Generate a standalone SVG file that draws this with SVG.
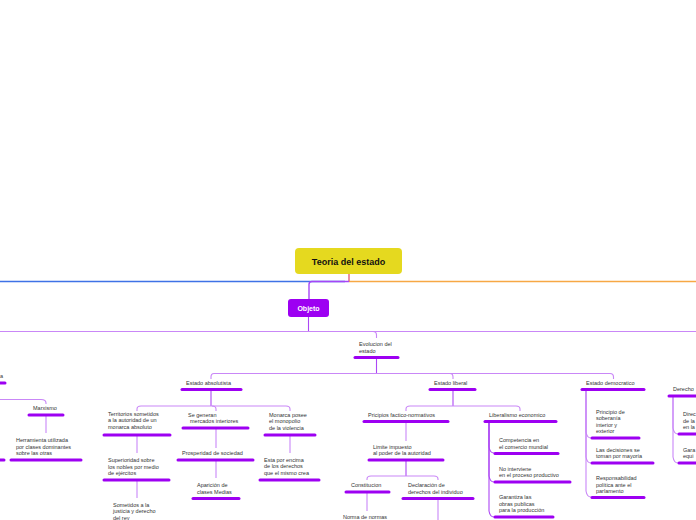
<svg xmlns="http://www.w3.org/2000/svg" width="696" height="520" viewBox="0 0 696 520">
<defs>
<style>
.t{font-family:"Liberation Sans",Arial,sans-serif;font-size:5.5px;fill:#333}
.bar{stroke:#9d00f2;stroke-width:3;stroke-linecap:round;fill:none}
.ln{stroke:#c987f7;stroke-width:1.1;fill:none}
.lnd{stroke:#ad48f5;stroke-width:1.1;fill:none}
</style>
</defs>
<rect width="696" height="520" fill="#ffffff"/>
<g id="connectors">
<path d="M0 281.5 H345" stroke="#3f72e6" stroke-width="1.4" fill="none"/>
<path d="M349 281.5 H696" stroke="#f7a844" stroke-width="1.4" fill="none"/>
<path d="M349 274 V281.5" stroke="#e0607a" stroke-width="1.4" fill="none"/>
<path d="M349 281.5 H312 Q309 281.5 309 284.5 V299" stroke="#a646f7" stroke-width="1.4" fill="none"/>
<path d="M308.5 317 V331.5" class="lnd"/>
<path d="M0 331.5 H696" class="ln"/>
<path d="M373 331.5 Q376.5 331.5 376.5 335 V338" class="ln"/>
<path d="M376.5 357 V373.5" class="lnd"/>
<path d="M214 373.5 H610 Q613.5 373.5 613.5 377 V379" class="ln"/>
<path d="M214 373.5 Q211 373.5 211 377 V379" class="ln"/>
<path d="M450 373.5 Q453 373.5 453 377 V379" class="ln"/>
<path d="M0 399.5 H41 Q46 399.5 46 403 V404" class="ln"/>
<path d="M46 415 V433" class="ln"/>
<path d="M211 389 V406" class="lnd"/>
<path d="M141 406 H286 Q290 406 290 409 V411" class="ln"/>
<path d="M141 406 Q137 406 137 409 V411" class="ln"/>
<path d="M212 406 Q216 406 216 409 V411" class="ln"/>
<path d="M137 435 V453" class="ln"/>
<path d="M137 480 V498" class="ln"/>
<path d="M216 428 V448" class="ln"/>
<path d="M216 460 V478" class="ln"/>
<path d="M290 435 V453" class="ln"/>
<path d="M453 389 V406" class="lnd"/>
<path d="M410 406 H516 Q520 406 520 409 V411" class="ln"/>
<path d="M410 406 Q406 406 406 409 V411" class="ln"/>
<path d="M406 421 V441" class="ln"/>
<path d="M406 460 V476" class="lnd"/>
<path d="M371 476 H434 Q438 476 438 479 V480" class="ln"/>
<path d="M371 476 Q367 476 367 479 V480" class="ln"/>
<path d="M367 492 V511" class="ln"/>
<path d="M438 498 V520" class="ln"/>
<path d="M489 421 V447 Q490 453 494 453" class="lnd"/>
<path d="M489 421 V476 Q490 482 494 482" class="lnd"/>
<path d="M489 421 V511 Q490 517 494 517" class="lnd"/>
<path d="M586 389 V432 Q587 438 591 438" class="ln"/>
<path d="M586 389 V457 Q587 463 591 463" class="ln"/>
<path d="M586 389 V491 Q587 497 591 497" class="ln"/>
<path d="M673 396 V428 Q674 434 678 434" class="ln"/>
<path d="M673 396 V457 Q674 463 678 463" class="ln"/>
</g>
<g id="root">
<rect x="295" y="248" width="107" height="26" rx="4" fill="#e5d91f"/>
<text x="348.5" y="265" text-anchor="middle" style="font-family:'Liberation Sans',Arial,sans-serif;font-size:9px;font-weight:bold;fill:#111">Teoria del estado</text>
</g>
<g id="objeto">
<rect x="288" y="299" width="41" height="18" rx="3" fill="#9d00f2"/>
<text x="308.5" y="310.5" text-anchor="middle" style="font-family:'Liberation Sans',Arial,sans-serif;font-size:7px;font-weight:bold;fill:#fff">Objeto</text>
</g>
<g id="evolucion">
<text class="t" x="359" y="346">Evolucion del</text>
<text class="t" x="359" y="353">estado</text>
<path class="bar" d="M355 357.5 H398"/>
</g>
<g id="left-a">
<text class="t" x="0" y="378">a</text>
<path class="bar" d="M-2 383 H5"/>
</g>
<g id="marxismo">
<text class="t" x="33" y="410">Marxismo</text>
<path class="bar" d="M29 415 H63"/>
</g>
<g id="herramienta">
<text class="t" x="16" y="442">Herramienta utilizada</text>
<text class="t" x="16" y="449">por clases dominantes</text>
<text class="t" x="16" y="455">sobre las otras</text>
<path class="bar" d="M11 460 H81"/>
</g>
<g id="left-b"><path class="bar" d="M-2 460 H4"/></g>
<g id="absolutista">
<text class="t" x="186" y="385">Estado absolutista</text>
<path class="bar" d="M182 389.5 H241"/>
</g>
<g id="territorios">
<text class="t" x="108" y="416">Territorios sometidos</text>
<text class="t" x="108" y="422">a la autoridad de un</text>
<text class="t" x="108" y="429">monarca absoluto</text>
<path class="bar" d="M104 435 H170"/>
</g>
<g id="superioridad">
<text class="t" x="108" y="462">Superioridad sobre</text>
<text class="t" x="108" y="469">los nobles por medio</text>
<text class="t" x="108" y="475">de ejércitos</text>
<path class="bar" d="M104 480 H169"/>
</g>
<g id="sometidos">
<text class="t" x="113" y="507">Sometidos a la</text>
<text class="t" x="113" y="513">justicia y derecho</text>
<text class="t" x="113" y="519.5">del rey</text>
</g>
<g id="mercados">
<text class="t" x="188" y="417">Se generan</text>
<text class="t" x="190" y="423">mercados interiores</text>
<path class="bar" d="M183 428 H248"/>
</g>
<g id="prosperidad">
<text class="t" x="182" y="455">Prosperidad de sociedad</text>
<path class="bar" d="M178 460 H253"/>
</g>
<g id="aparicion">
<text class="t" x="197" y="487">Aparición de</text>
<text class="t" x="197" y="494">clases Medias</text>
<path class="bar" d="M193 498.5 H239"/>
</g>
<g id="monarca">
<text class="t" x="269" y="417">Monarca posee</text>
<text class="t" x="269" y="423">el monopolio</text>
<text class="t" x="269" y="430">de la violencia</text>
<path class="bar" d="M265 435 H315"/>
</g>
<g id="encima">
<text class="t" x="264" y="462">Esta por encima</text>
<text class="t" x="264" y="468">de los derechos</text>
<text class="t" x="264" y="475">que el mismo crea</text>
<path class="bar" d="M260 480 H319"/>
</g>
<g id="liberal">
<text class="t" x="434" y="385">Estado liberal</text>
<path class="bar" d="M430 389.5 H475"/>
</g>
<g id="principios">
<text class="t" x="368" y="417">Pricipios factico-normativos</text>
<path class="bar" d="M364 421.5 H448"/>
</g>
<g id="limite">
<text class="t" x="373" y="449">Limite impuesto</text>
<text class="t" x="373" y="455">al poder de la autoridad</text>
<path class="bar" d="M369 460 H443"/>
</g>
<g id="constitucion">
<text class="t" x="351" y="487">Constitucion</text>
<path class="bar" d="M346 492 H389"/>
</g>
<g id="norma">
<text class="t" x="343" y="519">Norma de normas</text>
</g>
<g id="declaracion">
<text class="t" x="408" y="487">Declaración de</text>
<text class="t" x="408" y="494">derechos del individuo</text>
<path class="bar" d="M403 498.5 H473"/>
</g>
<g id="liberalismo">
<text class="t" x="489" y="417">Liberalismo economico</text>
<path class="bar" d="M485 421.5 H556"/>
</g>
<g id="competencia">
<text class="t" x="499" y="442">Competencia en</text>
<text class="t" x="499" y="449">el comercio mundial</text>
<path class="bar" d="M495 453.5 H558"/>
</g>
<g id="nointerviene">
<text class="t" x="499" y="471">No interviene</text>
<text class="t" x="499" y="477">en el proceso productivo</text>
<path class="bar" d="M495 482 H570"/>
</g>
<g id="garantiza">
<text class="t" x="499" y="499">Garantiza las</text>
<text class="t" x="499" y="506">obras publicas</text>
<text class="t" x="499" y="512">para la producción</text>
<path class="bar" d="M495 517 H553"/>
</g>
<g id="democratico">
<text class="t" x="586" y="385">Estado democratico</text>
<path class="bar" d="M582 389.5 H644"/>
</g>
<g id="soberania">
<text class="t" x="596" y="414">Principio de</text>
<text class="t" x="596" y="420">soberanía</text>
<text class="t" x="596" y="427">interior y</text>
<text class="t" x="596" y="433">exterior</text>
<path class="bar" d="M592 438 H639"/>
</g>
<g id="decisiones">
<text class="t" x="596" y="452">Las decisiones se</text>
<text class="t" x="596" y="458">toman por mayoría</text>
<path class="bar" d="M592 463 H653"/>
</g>
<g id="responsabilidad">
<text class="t" x="596" y="480">Responsabilidad</text>
<text class="t" x="596" y="487">política ante el</text>
<text class="t" x="596" y="493">parlamento</text>
<path class="bar" d="M592 497.5 H644"/>
</g>
<g id="derecho">
<text class="t" x="673" y="391">Derecho</text>
<path class="bar" d="M669 396 H698"/>
</g>
<g id="direc">
<text class="t" x="683" y="416">Direc</text>
<text class="t" x="683" y="423">de la</text>
<text class="t" x="683" y="429">en la</text>
<path class="bar" d="M679 434 H698"/>
</g>
<g id="gara">
<text class="t" x="683" y="452">Gara</text>
<text class="t" x="683" y="458">equi</text>
<path class="bar" d="M679 463 H698"/>
</g>
</svg>
